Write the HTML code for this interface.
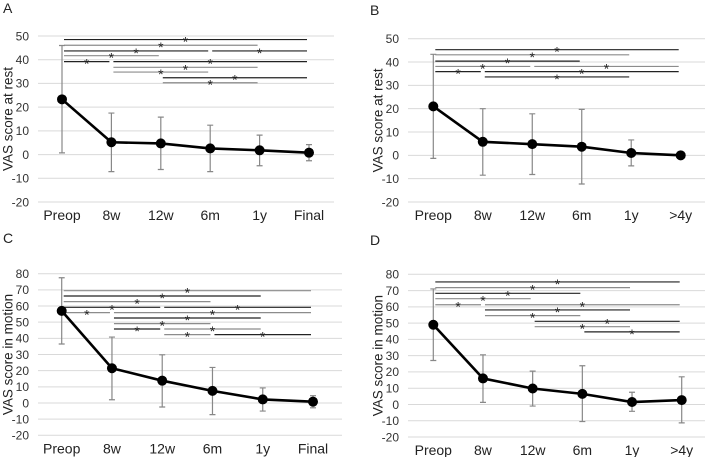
<!DOCTYPE html>
<html><head><meta charset="utf-8"><style>
html,body{margin:0;padding:0;background:#fff}
svg{display:block;font-family:"Liberation Sans",Arial,sans-serif}
</style></head><body>
<svg id="fig" width="707" height="457" viewBox="0 0 707 457"></svg>
<script>
const catsA = ["Preop","8w","12w","6m","1y","Final"];
const catsB = ["Preop","8w","12w","6m","1y",">4y"];
const aMean = [23.3,5.2,4.7,2.6,1.8,0.8];
const aUpper = [46,17.5,15.8,12.4,8.2,4.2];
const aLower = [0.7,-7.2,-6.3,-7.2,-4.7,-2.6];
const bMean = [21,5.8,4.8,3.7,1,0];
const bUpper = [43.3,20,17.8,19.7,6.6,0];
const bLower = [-1.3,-8.5,-8.2,-12.3,-4.5,0];
const cMean = [57,21.5,13.8,7.5,2.2,0.8];
const cUpper = [77.5,40.8,29.8,22,9.3,4.5];
const cLower = [36.5,2,-2.5,-7.2,-5,-3];
const dMean = [49,16,9.8,6.5,1.5,2.7];
const dUpper = [71,30.5,20.5,23.8,7.5,17];
const dLower = [27,1.3,-1,-10.5,-4.2,-11.3];
const ticksRest = [50,40,30,20,10,0,-10,-20];
const ticksMotion = [80,70,60,50,40,30,20,10,0,-10,-20];
// significance bars: [fromIndex, toIndex, yValue, dark(1)/gray(0)]
const aSig = [[0,5,48.5,1],[0,4,46.1,0],[0,3,43.7,1],[3,5,43.7,1],[0,2,41.7,0],[0,1,39.2,1],[1,5,39.2,1],[1,4,36.8,0],[1,3,34.8,0],[2,5,32.4,1],[2,4,30.3,0]];
const bSig = [[0,5,45.3,1],[0,4,43.1,0],[0,3,40.4,1],[0,2,38.1,0],[2,5,38.1,0],[0,1,35.9,1],[1,5,35.9,1],[1,4,33.6,1]];
const cSig = [[0,5,69.5,0],[0,4,66.2,1],[0,3,62.7,0],[0,2,59.2,1],[2,5,59.2,1],[0,1,55.9,0],[1,5,55.9,0],[1,4,52.6,1],[1,3,49.1,0],[1,2,45.8,1],[2,4,45.8,0],[2,3,42.3,0],[3,5,42.3,1]];
const dSig = [[0,5,75.3,1],[0,4,71.8,0],[0,3,68.3,1],[0,2,65,0],[0,1,61.3,0],[1,5,61.3,0],[1,4,58.1,1],[1,3,54.6,0],[2,5,51.1,1],[2,4,47.8,0],[3,5,44.6,1]];

const NS="http://www.w3.org/2000/svg";
const svg=document.getElementById('fig');
function mk(tag,attrs,parent){const e=document.createElementNS(NS,tag);for(const k in attrs)e.setAttribute(k,attrs[k]);(parent||svg).appendChild(e);return e;}

const panels=[
 {id:'a',label:'A',lx:3,ly:13,cats:catsA,mean:aMean,up:aUpper,lo:aLower,sig:aSig,ticks:ticksRest,ymax:50,ymin:-20,top:36,bot:202,x0:62,x1:309,gx0:38,gx1:334,title:'VAS score at rest',tx:8},
 {id:'b',label:'B',lx:370,ly:15,cats:catsB,mean:bMean,up:bUpper,lo:bLower,sig:bSig,ticks:ticksRest,ymax:50,ymin:-20,top:38.7,bot:202,x0:433.3,x1:680.7,gx0:408,gx1:705,title:'VAS score at rest',tx:378},
 {id:'c',label:'C',lx:3,ly:243,cats:catsA,mean:cMean,up:cUpper,lo:cLower,sig:cSig,ticks:ticksMotion,ymax:80,ymin:-20,top:273.7,bot:435.3,x0:61.7,x1:313,gx0:38,gx1:342,title:'VAS score in motion',tx:8},
 {id:'d',label:'D',lx:370,ly:245,cats:catsB,mean:dMean,up:dUpper,lo:dLower,sig:dSig,ticks:ticksMotion,ymax:80,ymin:-20,top:274.3,bot:437,x0:433.3,x1:681.7,gx0:408,gx1:705,title:'VAS score in motion',tx:378}
];

panels.forEach(p=>{
 const g=mk('g',{});
 
 
 const Y=v=>p.top+(p.ymax-v)/(p.ymax-p.ymin)*(p.bot-p.top);
 const X=i=>p.x0+i*(p.x1-p.x0)/(p.cats.length-1);
 const lab=mk('text',{x:p.lx,y:p.ly,'font-size':14,fill:'#222'},g);lab.textContent=p.label;
 
 
 p.ticks.forEach(t=>{
  const ln=mk('line',{x1:p.gx0,x2:p.gx1,y1:Y(t),y2:Y(t),stroke:'#d9d9d9','stroke-width':1},g);
  
  
  const tx=mk('text',{x:p.gx0-9,y:Y(t)+4.3,'font-size':12,'text-anchor':'end',fill:'#333'},g);tx.textContent=t;
  
  
 });
 p.cats.forEach((c,i)=>{
  const tx=mk('text',{x:X(i),y:p.bot+18,'font-size':14,'text-anchor':'middle',fill:'#222'},g);tx.textContent=c;
  
  
 });
 const cy=(p.top+p.bot)/2;
 const tt=mk('text',{x:p.tx,y:cy,'font-size':13.5,'text-anchor':'middle',fill:'#222',transform:`rotate(-90 ${p.tx} ${cy})`,'dominant-baseline':'central'},g);tt.textContent=p.title;
 
 
 p.sig.forEach(s=>{
  const xa=X(s[0])+2,xb=X(s[1])-2,y=Y(s[2]);
  const col=s[3]?'#222':'#8c8c8c';
  const l=mk('line',{x1:xa,x2:xb,y1:y,y2:y,stroke:col,'stroke-width':1.2},g);
  
  
  const st=mk('text',{x:(xa+xb)/2,y:y+7,'font-size':14,'text-anchor':'middle',fill:'#222'},g);st.textContent='*';
  
  
 });
 p.mean.forEach((m,i)=>{
  const x=X(i);
  const e=mk('path',{d:`M${x},${Y(p.up[i])}V${Y(p.lo[i])}M${x-3},${Y(p.up[i])}H${x+3}M${x-3},${Y(p.lo[i])}H${x+3}`,stroke:'#888','stroke-width':1.2,fill:'none'},g);
  
  
 });
 const pts=p.mean.map((m,i)=>X(i)+','+Y(m)).join(' ');
 const pl=mk('polyline',{points:pts,fill:'none',stroke:'#000','stroke-width':2.6},g);
 
 
 p.mean.forEach((m,i)=>{
  const c=mk('circle',{cx:X(i),cy:Y(m),r:5,fill:'#000'},g);
  
  
 });
});
</script>
</body></html>
